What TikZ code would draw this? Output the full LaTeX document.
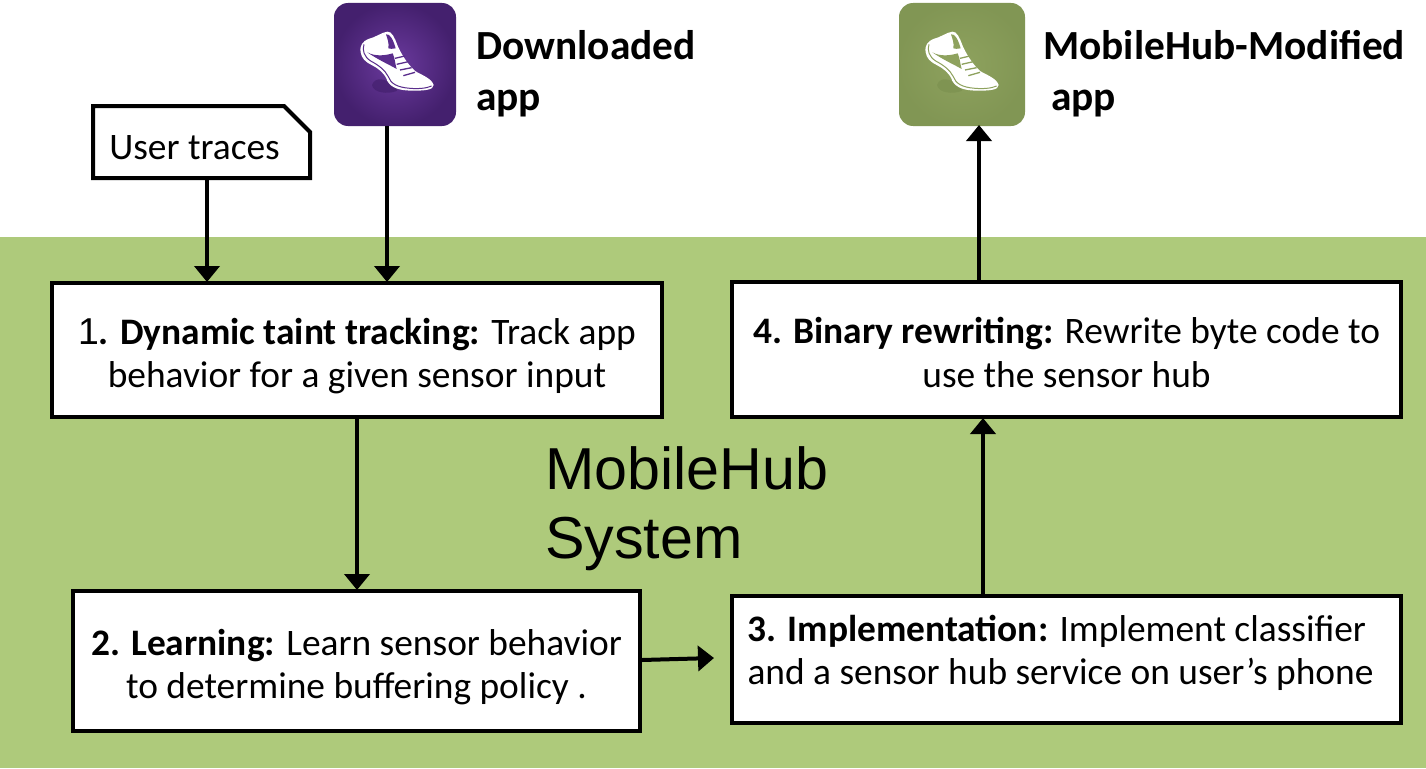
\documentclass[tikz,border=0pt]{standalone}
\usepackage{fontspec}
\setmainfont{Carlito}
\newfontfamily\arialfont{Liberation Sans}
\usetikzlibrary{arrows.meta,shapes.misc,shadows}
\definecolor{sysgreen}{HTML}{AECA7B}
\definecolor{iconpurple}{HTML}{5A2D8C}
\definecolor{iconpurpledark}{HTML}{44206E}
\definecolor{iconpurplelight}{HTML}{6B3A9E}
\definecolor{icongreen}{HTML}{8EA25E}
\definecolor{icongreendark}{HTML}{7C9150}
\newcommand{\topfix}[1]{\rule{0pt}{#1pt}}
\newcommand{\botfix}[1]{\rule[-#1pt]{0pt}{#1pt}}
\tikzset{
  x=1pt,y=-1pt,
  stepbox/.style={draw=black,line width=4pt,fill=white,inner sep=0pt,align=center,
    font=\fontsize{37.4}{43.7}\selectfont,
    drop shadow={shadow xshift=1pt,shadow yshift=-1.5pt,opacity=.25,fill=black}},
  flow/.style={draw=black,line width=4pt,-{Triangle[length=16pt,width=25pt]},shorten >=-1pt},
  heading/.style={font=\fontsize{41.4}{51}\selectfont\bfseries,align=left,inner sep=0pt,anchor=north west},
  iconbox/.style={rounded corners=14pt,inner sep=0pt,line width=0pt},
  pics/shoe/.style 2 args={code={
    \begin{scope}[x=0.3333pt,y=-0.3333pt]
      \fill[#2,opacity=.7] (66,180) .. controls (75,155) and (105,160) .. (125,178) .. controls (135,188) and (145,195) .. (140,198) .. controls (115,208) and (70,205) .. (66,180) -- cycle;
      \fill[white] (32,82) .. controls (28,60) and (40,48) .. (55,42) .. controls (75,38) and (95,22) .. (112,20) .. controls (125,18) and (135,40) .. (142,60) .. controls (150,80) and (170,115) .. (195,138) .. controls (215,150) and (245,160) .. (251,180) .. controls (250,195) and (225,197) .. (190,197) .. controls (150,197) and (125,190) .. (112,168) .. controls (105,145) and (85,130) .. (65,120) .. controls (45,110) and (35,100) .. (32,82) -- cycle;
      \fill[#1] (108,28) .. controls (120,25) and (130,45) .. (137,70) .. controls (128,72) and (120,72) .. (115,70) .. controls (118,55) and (112,40) .. (108,28) -- cycle;
      \fill[#1] (52,82) .. controls (75,95) and (105,92) .. (128,85) .. controls (135,100) and (135,115) .. (140,132) .. controls (120,120) and (85,105) .. (52,82) -- cycle;
      \draw[#1,line width=1pt] (42,58) .. controls (36,75) and (42,95) .. (62,108) .. controls (85,120) and (105,135) .. (115,155) .. controls (122,175) and (140,187) .. (180,190) .. controls (205,192) and (230,190) .. (245,183);
      \draw[#1,line width=1.3pt] (135,100) -- (165,93);
      \draw[#1,line width=1.3pt] (140,118) -- (175,110);
      \draw[#1,line width=1.3pt] (150,135) -- (185,128);
      \draw[#1,line width=1.3pt] (160,152) -- (195,142);
    \end{scope}
  }}
}
\begin{document}
\begin{tikzpicture}
\useasboundingbox (0,0) rectangle (1426,768);
\fill[white] (0,0) rectangle (1426,768);
\fill[sysgreen] (0,237) rectangle (1426,768);

% icons
\node[iconbox,minimum width=122pt,minimum height=123pt,anchor=north west,
  inner color=iconpurplelight,outer color=iconpurpledark] (down) at (334,3) {};
\pic at (350,25) {shoe={iconpurple}{iconpurpledark}};
\node[iconbox,minimum width=126pt,minimum height=123pt,anchor=north west,
  inner color=icongreen,outer color=icongreendark!70!icongreen] (mod) at (899,3) {};
\pic at (915,25) {shoe={icongreen}{icongreendark}};

% headings
\node[heading] (hdown) at (476,30) {Downloaded\\app};
\node[heading] (hmod) at (1043,30) {MobileHub-Modified\\[0pt]\hspace*{8pt}app};

% note
\node[draw=black,line width=4pt,fill=white,chamfered rectangle,chamfered rectangle corners=north east,
  chamfered rectangle xsep=13pt,chamfered rectangle ysep=13pt,minimum width=217pt,minimum height=72pt,inner sep=0pt,
  font=\fontsize{37.4}{44}\selectfont,
  drop shadow={shadow xshift=1pt,shadow yshift=-1.5pt,opacity=.25,fill=black}] (trace) at (201.5,142) {\topfix{40}User traces\botfix{6}\hspace*{14pt}};

% steps
\node[stepbox,minimum width=610pt,minimum height=134pt] (s1) at (357,350)
  {\topfix{40}{\arialfont 1}\textbf{. Dynamic taint tracking:} Track app\\behavior for a given sensor input\botfix{8}};
\node[stepbox,minimum width=567pt,minimum height=140pt] (s2) at (356.5,661)
  {\topfix{40}\textbf{2. Learning:} Learn sensor behavior\\to determine buffering policy .\botfix{8}};
\node[stepbox,minimum width=669pt,minimum height=127pt,align=left] (s3) at (1066.5,659.5)
  {\topfix{40}\textbf{3. Implementation:} Implement classifier\\and a sensor hub service on user’s phone\hspace*{12pt}\botfix{33}};
\node[stepbox,minimum width=669pt,minimum height=135pt] (s4) at (1066.5,349.5)
  {\topfix{40}\textbf{4. Binary rewriting:} Rewrite byte code to\\use the sensor hub\botfix{8}};

% system label
\node[font=\arialfont\fontsize{59.2}{69}\selectfont,align=left,inner sep=0pt,anchor=north west] (sys) at (545,446) {MobileHub\\System};

% connector guides
\coordinate (xa) at (207,0);
\coordinate (xb) at (387,0);
\coordinate (xc) at (357,0);
\coordinate (xd) at (983,0);
\coordinate (xe) at (979,0);
\coordinate (ya) at (0,660);
\coordinate (yb) at (0,658);

\draw[flow] (trace.south -| xa) -- (s1.north -| xa);
\draw[flow] (down.south -| xb) -- (s1.north -| xb);
\draw[flow] (s1.south -| xc) -- (s2.north -| xc);
\draw[flow,shorten >=0pt] (s2.east |- ya) -- ([xshift=-16pt]s3.west |- yb);
\draw[flow] (s3.north -| xd) -- (s4.south -| xd);
\draw[flow] (s4.north -| xe) -- (mod.south -| xe);
\end{tikzpicture}
\end{document}
